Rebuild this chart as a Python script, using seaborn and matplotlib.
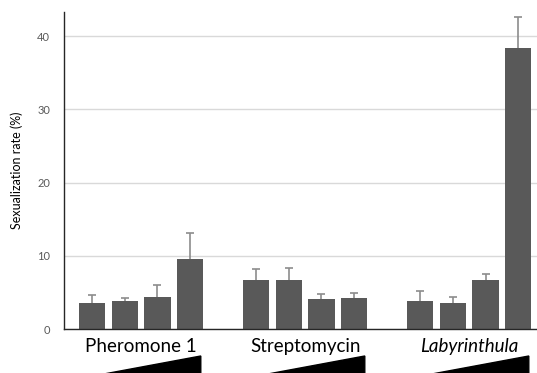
import numpy as np
import pandas as pd
import matplotlib
matplotlib.use("Agg")
import matplotlib.pyplot as plt
import matplotlib.transforms as mtransforms
import seaborn as sns

groups = ["Pheromone 1", "Streptomycin", "Labyrinthula"]
levels = [1, 2, 3, 4]
pheromone = [3.6, 3.8, 4.4, 9.55]
pheromone_err = [1.1, 0.4, 1.65, 3.6]
streptomycin = [6.65, 6.65, 4.05, 4.3]
streptomycin_err = [1.55, 1.7, 0.75, 0.6]
labyrinthula = [3.8, 3.6, 6.7, 38.45]
labyrinthula_err = [1.35, 0.75, 0.85, 4.15]
yticks = [0, 10, 20, 30, 40]

values = [pheromone, streptomycin, labyrinthula]
errors = [pheromone_err, streptomycin_err, labyrinthula_err]

rows = []
for gi, g in enumerate(groups):
    for li, lv in enumerate(levels):
        rows.append({"group": g, "level": lv, "pos": gi * 5 + li,
                     "rate": values[gi][li], "err": errors[gi][li]})
df = pd.DataFrame(rows)

sns.set_theme(style="white")
plt.rcParams["font.family"] = ["Lato", "DejaVu Sans"]

fig = plt.figure(figsize=(5.37, 3.73), dpi=100)
ax = fig.add_axes([64 / 537, 1 - 329 / 373, 1 - 64 / 537, (329 - 12) / 373])

sns.barplot(data=df, x="pos", y="rate", native_scale=True, width=0.8,
            color="#595959", saturation=1, errorbar=None, ax=ax,
            edgecolor="#595959", linewidth=0, zorder=3)
ax.errorbar(df["pos"], df["rate"], yerr=df["err"],
            fmt="none", ecolor="#8c8c8c", elinewidth=1.2, capsize=3,
            capthick=1.2, zorder=2)

ax.set_xlim(-0.85, 13.57)
ax.set_ylim(0, 43.3)
ax.set_yticks(yticks)
ax.set_yticklabels([str(t) for t in yticks], color="#595959", fontsize=8)
ax.tick_params(axis="y", length=0, pad=10)
ax.set_xticks([])
ax.set_xlabel("")
ax.set_ylabel("Sexualization rate (%)", fontsize=9, color="#000000", labelpad=10)
ax.yaxis.grid(True, color="#d9d9d9", linewidth=1)
ax.set_axisbelow(True)
for s in ["top", "right"]:
    ax.spines[s].set_visible(False)
for s in ["left", "bottom"]:
    ax.spines[s].set_color("#262626")
    ax.spines[s].set_linewidth(1.0)
    ax.spines[s].set_zorder(4)

trans = mtransforms.blended_transform_factory(ax.transData, fig.transFigure)
for gi, g in enumerate(groups):
    start = gi * 5
    center = start + 1.5
    ax.text(center, 1 - 352 / 373, g, transform=trans, ha="center", va="baseline",
            fontsize=13.5, style="italic" if g == "Labyrinthula" else "normal",
            color="black", clip_on=False)
    xs = [start - 0.08, start + 3.32, start + 3.32]
    ys = [-0.01, 1 - 356 / 373, -0.01]
    ax.fill(xs, ys, color="black", transform=trans, clip_on=False, zorder=5)

fig.savefig("out.png", dpi=100)
